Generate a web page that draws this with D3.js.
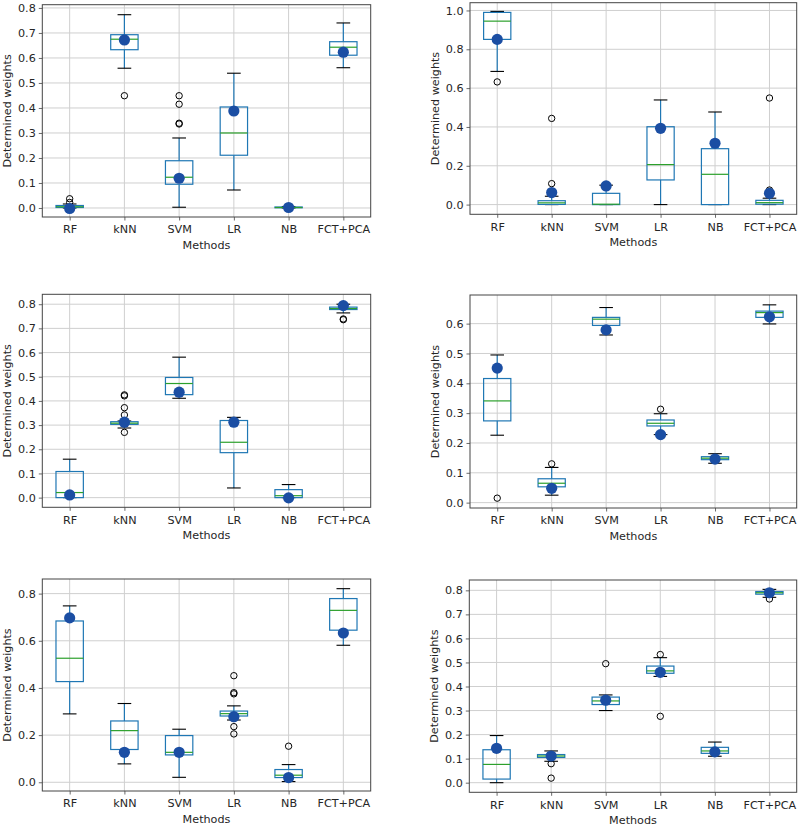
<!DOCTYPE html>
<html>
<head>
<meta charset="utf-8">
<script src="https://cdn.jsdelivr.net/npm/d3@7"></script>
<style>
  html, body { margin: 0; padding: 0; background: #fff; }
  svg { display: block; }
  text { font-family: "DejaVu Sans", sans-serif; fill: #262626; }
</style>
</head>
<body>
<svg id="chart" width="800" height="826"></svg>
<script>
// ---------------- DATA ----------------
const categories = ["RF", "kNN", "SVM", "LR", "NB", "FCT+PCA"];

// Box stats per method: [whiskerLow, q1, median, q3, whiskerHigh]
const p1Box = [
  [0.000, 0.002, 0.005, 0.010, 0.016],
  [0.559, 0.633, 0.675, 0.693, 0.773],
  [0.003, 0.095, 0.123, 0.189, 0.280],
  [0.072, 0.211, 0.300, 0.404, 0.539],
  [0.000, 0.001, 0.002, 0.004, 0.006],
  [0.561, 0.611, 0.643, 0.665, 0.740]
];
const p1Fliers = [[0.037, 0.022], [0.449], [0.449, 0.415, 0.339, 0.336], [], [], []];
const p1Dots = [-0.002, 0.672, 0.119, 0.388, 0.002, 0.623];

const p2Box = [
  [0.686, 0.851, 0.945, 0.990, 0.995],
  [0.000, 0.001, 0.009, 0.020, 0.043],
  [0.000, 0.000, 0.002, 0.058, 0.100],
  [0.000, 0.127, 0.206, 0.401, 0.539],
  [0.000, 0.000, 0.156, 0.288, 0.477],
  [0.000, 0.002, 0.010, 0.022, 0.033]
];
const p2Fliers = [[0.632], [0.444, 0.108], [], [], [], [0.549, 0.075]];
const p2Dots = [0.851, 0.062, 0.096, 0.393, 0.316, 0.058];

const p3Box = [
  [0.000, 0.000, 0.021, 0.108, 0.159],
  [0.288, 0.303, 0.308, 0.314, 0.317],
  [0.411, 0.426, 0.472, 0.497, 0.581],
  [0.040, 0.186, 0.229, 0.319, 0.332],
  [0.000, 0.000, 0.008, 0.033, 0.054],
  [0.764, 0.778, 0.782, 0.788, 0.800]
];
const p3Fliers = [[], [0.425, 0.421, 0.372, 0.342, 0.270], [], [], [], [0.739, 0.736]];
const p3Dots = [0.011, 0.312, 0.436, 0.312, -0.001, 0.794];

const p4Box = [
  [0.226, 0.274, 0.341, 0.416, 0.495],
  [0.025, 0.053, 0.065, 0.080, 0.118],
  [0.562, 0.594, 0.615, 0.621, 0.654],
  [0.228, 0.257, 0.266, 0.277, 0.298],
  [0.132, 0.144, 0.149, 0.154, 0.164],
  [0.599, 0.621, 0.637, 0.642, 0.663]
];
const p4Fliers = [[0.015], [0.130], [], [0.313], [], []];
const p4Dots = [0.451, 0.048, 0.579, 0.228, 0.146, 0.623];

const p5Box = [
  [0.290, 0.427, 0.526, 0.684, 0.748],
  [0.078, 0.139, 0.219, 0.260, 0.334],
  [0.021, 0.116, 0.127, 0.198, 0.225],
  [0.264, 0.281, 0.291, 0.302, 0.324],
  [0.003, 0.020, 0.030, 0.054, 0.075],
  [0.581, 0.645, 0.729, 0.779, 0.821]
];
const p5Fliers = [[], [], [], [0.452, 0.380, 0.375, 0.236, 0.205], [0.153], []];
const p5Dots = [0.697, 0.127, 0.127, 0.278, 0.020, 0.633];

const p6Box = [
  [0.000, 0.015, 0.076, 0.137, 0.196],
  [0.089, 0.105, 0.111, 0.117, 0.132],
  [0.300, 0.325, 0.340, 0.356, 0.365],
  [0.442, 0.455, 0.465, 0.485, 0.520],
  [0.110, 0.122, 0.132, 0.147, 0.169],
  [0.771, 0.784, 0.790, 0.795, 0.804]
];
const p6Fliers = [[], [0.079, 0.019], [0.495], [0.533, 0.276], [], [0.764]];
const p6Dots = [0.143, 0.111, 0.343, 0.459, 0.128, 0.790];

// y tick labels per panel
const p1Ticks = [0.0, 0.1, 0.2, 0.3, 0.4, 0.5, 0.6, 0.7, 0.8];
const p2Ticks = [0.0, 0.2, 0.4, 0.6, 0.8, 1.0];
const p3Ticks = [0.0, 0.1, 0.2, 0.3, 0.4, 0.5, 0.6, 0.7, 0.8];
const p4Ticks = [0.0, 0.1, 0.2, 0.3, 0.4, 0.5, 0.6];
const p5Ticks = [0.0, 0.2, 0.4, 0.6, 0.8];
const p6Ticks = [0.0, 0.1, 0.2, 0.3, 0.4, 0.5, 0.6, 0.7, 0.8];

// y axis limits per panel
const p1Lim = [-0.036, 0.813];
const p2Lim = [-0.050, 1.040];
const p3Lim = [-0.040, 0.841];
const p4Lim = [-0.018, 0.696];
const p5Lim = [-0.037, 0.862];
const p6Lim = [-0.040, 0.843];

const xLabel = "Methods";
const yLabel = "Determined weights";

// ---------------- LAYOUT ----------------
const frames = [
  {left: 42.3, right: 370.7, top: 4.7, bottom: 217},
  {left: 470, right: 796.7, top: 2.7, bottom: 214.3},
  {left: 42.3, right: 370.7, top: 294.3, bottom: 507.3},
  {left: 470, right: 796.7, top: 295, bottom: 508},
  {left: 42.3, right: 370.7, top: 579, bottom: 791},
  {left: 469.3, right: 796.7, top: 580, bottom: 792.3}
];

const panels = [
  {box: p1Box, fliers: p1Fliers, dots: p1Dots, ticks: p1Ticks, lim: p1Lim},
  {box: p2Box, fliers: p2Fliers, dots: p2Dots, ticks: p2Ticks, lim: p2Lim},
  {box: p3Box, fliers: p3Fliers, dots: p3Dots, ticks: p3Ticks, lim: p3Lim},
  {box: p4Box, fliers: p4Fliers, dots: p4Dots, ticks: p4Ticks, lim: p4Lim},
  {box: p5Box, fliers: p5Fliers, dots: p5Dots, ticks: p5Ticks, lim: p5Lim},
  {box: p6Box, fliers: p6Fliers, dots: p6Dots, ticks: p6Ticks, lim: p6Lim}
];

const COLORS = {
  box: "#1f77b4",
  median: "#2ca02c",
  cap: "#000000",
  dot: "#1b4ea3",
  grid: "#cfcfcf",
  spine: "#444444"
};

const svg = d3.select("#chart");

panels.forEach((p, i) => {
  const f = frames[i];
  const w = f.right - f.left, h = f.bottom - f.top;
  const g = svg.append("g").attr("transform", `translate(${f.left},${f.top})`);

  const x = d3.scalePoint().domain(categories).range([0, w]).padding(0.5);
  const step = x.step();
  const y = d3.scaleLinear().domain(p.lim).range([h, 0]);

  // grid
  g.append("g").selectAll("line").data(p.ticks).join("line")
    .attr("x1", 0).attr("x2", w)
    .attr("y1", d => y(d)).attr("y2", d => y(d))
    .attr("stroke", COLORS.grid).attr("stroke-width", 1);
  g.append("g").selectAll("line").data(categories).join("line")
    .attr("x1", d => x(d)).attr("x2", d => x(d))
    .attr("y1", 0).attr("y2", h)
    .attr("stroke", COLORS.grid).attr("stroke-width", 1);

  // axes
  const yAxis = d3.axisLeft(y).tickValues(p.ticks).tickFormat(d3.format(".1f")).tickSize(3.5).tickPadding(3);
  const ya = g.append("g").call(yAxis);
  const xAxis = d3.axisBottom(x).tickSize(3.5).tickPadding(5);
  const xa = g.append("g").attr("transform", `translate(0,${h})`).call(xAxis);
  [ya, xa].forEach(a => {
    a.select(".domain").remove();
    a.selectAll(".tick line").attr("stroke", COLORS.spine).attr("stroke-width", 0.8);
    a.selectAll(".tick text").attr("font-size", 11.2).attr("fill", "#262626")
      .attr("font-family", "DejaVu Sans, sans-serif");
  });

  const clip = g.append("g");
  const bw = step * 0.5, cw = step * 0.25;

  categories.forEach((c, k) => {
    const [lo, q1, med, q3, hi] = p.box[k];
    const cx = x(c);
    const bg = clip.append("g");
    // whiskers
    bg.append("line").attr("x1", cx).attr("x2", cx).attr("y1", y(q3)).attr("y2", y(hi))
      .attr("stroke", COLORS.box).attr("stroke-width", 1.2);
    bg.append("line").attr("x1", cx).attr("x2", cx).attr("y1", y(q1)).attr("y2", y(lo))
      .attr("stroke", COLORS.box).attr("stroke-width", 1.2);
    // caps
    [lo, hi].forEach(v => {
      bg.append("line").attr("x1", cx - cw / 2).attr("x2", cx + cw / 2)
        .attr("y1", y(v)).attr("y2", y(v))
        .attr("stroke", COLORS.cap).attr("stroke-width", 1.1);
    });
    // box
    bg.append("rect").attr("x", cx - bw / 2).attr("width", bw)
      .attr("y", y(q3)).attr("height", Math.max(0.1, y(q1) - y(q3)))
      .attr("fill", "none").attr("stroke", COLORS.box).attr("stroke-width", 1.2);
    // median
    bg.append("line").attr("x1", cx - bw / 2).attr("x2", cx + bw / 2)
      .attr("y1", y(med)).attr("y2", y(med))
      .attr("stroke", COLORS.median).attr("stroke-width", 1.2);
    // fliers
    bg.selectAll("circle.flier").data(p.fliers[k]).join("circle")
      .attr("class", "flier")
      .attr("cx", cx).attr("cy", d => y(d)).attr("r", 3.2)
      .attr("fill", "none").attr("stroke", "#000").attr("stroke-width", 1);
  });

  // dots
  g.append("g").selectAll("circle").data(p.dots).join("circle")
    .attr("cx", (d, k) => x(categories[k])).attr("cy", d => y(d)).attr("r", 5.6)
    .attr("fill", COLORS.dot);

  // frame
  g.append("rect").attr("x", 0).attr("y", 0).attr("width", w).attr("height", h)
    .attr("fill", "none").attr("stroke", COLORS.spine).attr("stroke-width", 1);

  // labels
  g.append("text").attr("x", w / 2).attr("y", h + 32)
    .attr("text-anchor", "middle").attr("font-size", 11.2).text(xLabel);
  g.append("text")
    .attr("transform", `translate(${-35},${h / 2}) rotate(-90)`)
    .attr("text-anchor", "middle").attr("dy", "0.35em").attr("font-size", 11.2).text(yLabel);
});
</script>
</body>
</html>
